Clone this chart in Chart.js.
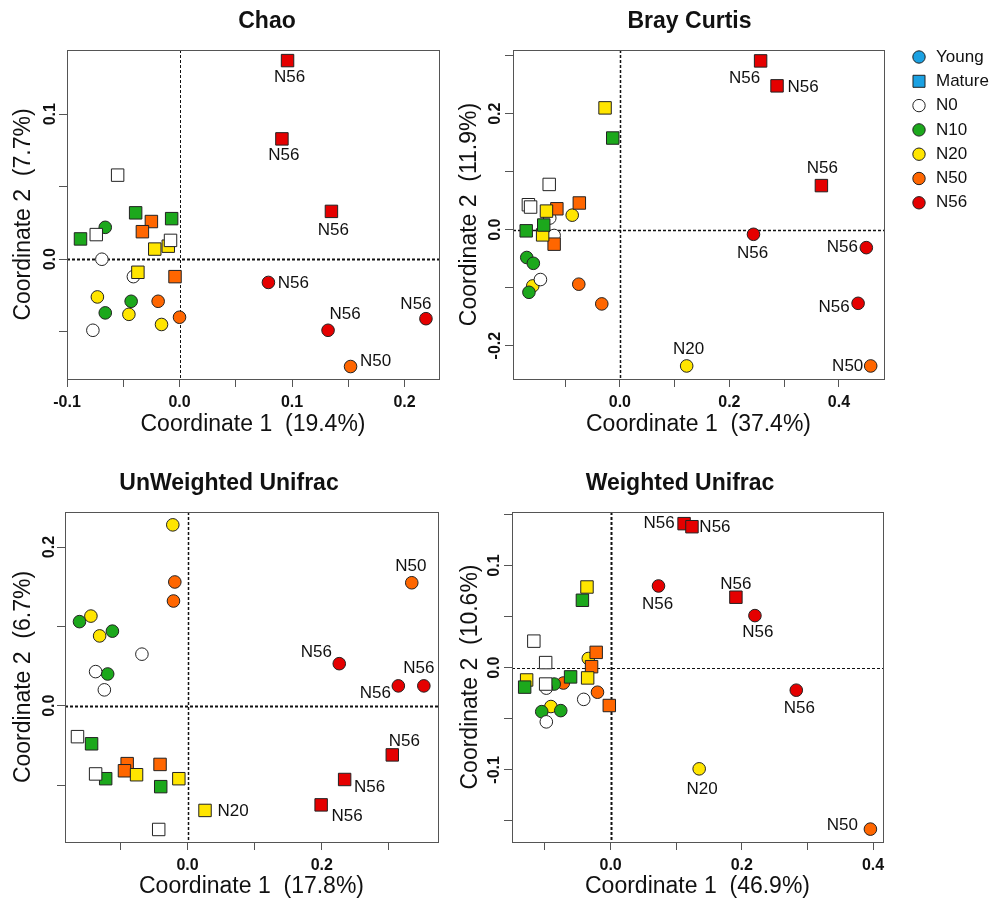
<!DOCTYPE html>
<html>
<head>
<meta charset="utf-8">
<script src="https://cdn.jsdelivr.net/npm/chart.js@4/dist/chart.umd.min.js"></script>
<style>
  body { margin: 0; background: #fff; }
  #wrap { position: relative; width: 994px; height: 900px; overflow: hidden; }
  #wrap canvas { position: absolute; }
</style>
</head>
<body>
<div id="wrap">
  <canvas id="chao" width="460" height="450" style="left:0;top:0"></canvas>
  <canvas id="bray" width="554" height="450" style="left:440px;top:0"></canvas>
  <canvas id="unw" width="460" height="440" style="left:0;top:460px"></canvas>
  <canvas id="wu" width="554" height="440" style="left:440px;top:460px"></canvas>
</div>
<script>
const FONT = "'Liberation Sans', Arial, Helvetica, sans-serif";

// 30 samples, same order in every panel: 3 young then 3 mature per N level
const sampleGroup = ['N0','N0','N0','N0','N0','N0','N10','N10','N10','N10','N10','N10',
  'N20','N20','N20','N20','N20','N20','N50','N50','N50','N50','N50','N50',
  'N56','N56','N56','N56','N56','N56'];
const sampleAge = ['Young','Young','Young','Mature','Mature','Mature','Young','Young','Young','Mature','Mature','Mature',
  'Young','Young','Young','Mature','Mature','Mature','Young','Young','Young','Mature','Mature','Mature',
  'Young','Young','Young','Mature','Mature','Mature'];

const groupNames = ['N0', 'N10', 'N20', 'N50', 'N56'];
const groupColors = { N0: '#ffffff', N10: '#1ca81c', N20: '#ffe500', N50: '#ff6600', N56: '#e50000' };

const legendLabels = ['Young', 'Mature', 'N0', 'N10', 'N20', 'N50', 'N56'];
const legendColors = ['#1ba1e2', '#1ba1e2', '#ffffff', '#1ca81c', '#ffe500', '#ff6600', '#e50000'];
const legendShapes = ['circle', 'rect', 'circle', 'circle', 'circle', 'circle', 'circle'];

// Chao
const chaoX = [-0.069, -0.041, -0.077, -0.055, -0.074, -0.008,
  -0.066, -0.043, -0.066, -0.088, -0.039, -0.007,
  -0.073, -0.045, -0.016, -0.022, -0.010, -0.037,
  0.152, -0.019, 0.000, -0.025, -0.033, -0.004,
  0.079, 0.132, 0.219, 0.096, 0.091, 0.135];
const chaoY = [0.000, -0.012, -0.049, 0.058, 0.017, 0.013,
  0.022, -0.029, -0.037, 0.014, 0.032, 0.028,
  -0.026, -0.038, -0.045, 0.007, 0.009, -0.009,
  -0.074, -0.029, -0.040, 0.026, 0.019, -0.012,
  -0.016, -0.049, -0.041, 0.137, 0.083, 0.033];
const chaoXTicks = [-0.1, -0.05, 0, 0.05, 0.1, 0.15, 0.2];
const chaoXTickLabels = ['-0.1', '', '0.0', '', '0.1', '', '0.2'];
const chaoYTicks = [-0.05, 0, 0.05, 0.1];
const chaoYTickLabels = ['', '0.0', '', '0.1'];

// Bray Curtis
const brayX = [-0.128, -0.120, -0.145, -0.129, -0.167, -0.163,
  -0.170, -0.158, -0.166, -0.013, -0.171, -0.139,
  0.122, -0.087, -0.159, -0.027, -0.134, -0.141,
  0.458, -0.075, -0.033, -0.074, -0.115, -0.120,
  0.244, 0.450, 0.435, 0.257, 0.287, 0.368];
const brayY = [0.020, -0.010, -0.086, 0.078, 0.043, 0.039,
  -0.048, -0.058, -0.108, 0.158, -0.002, 0.008,
  -0.235, 0.025, -0.097, 0.210, 0.032, -0.009,
  -0.235, -0.094, -0.128, 0.046, 0.036, -0.025,
  -0.008, -0.031, -0.127, 0.291, 0.248, 0.076];
const brayXTicks = [-0.1, 0, 0.1, 0.2, 0.3, 0.4];
const brayXTickLabels = ['', '0.0', '', '0.2', '', '0.4'];
const brayYTicks = [-0.2, -0.1, 0, 0.1, 0.2, 0.3];
const brayYTickLabels = ['-0.2', '', '0.0', '', '0.2', ''];

// UnWeighted Unifrac
const unwX = [-0.068, -0.137, -0.124, -0.164, -0.137, -0.043,
  -0.161, -0.112, -0.119, -0.143, -0.122, -0.040,
  -0.022, -0.144, -0.131, 0.026, -0.076, -0.013,
  0.334, -0.019, -0.021, -0.090, -0.094, -0.041,
  0.226, 0.314, 0.352, 0.305, 0.234, 0.199];
const unwY = [0.065, 0.043, 0.020, -0.039, -0.086, -0.156,
  0.106, 0.094, 0.040, -0.048, -0.092, -0.102,
  0.228, 0.113, 0.088, -0.132, -0.087, -0.092,
  0.155, 0.156, 0.132, -0.073, -0.082, -0.074,
  0.053, 0.025, 0.025, -0.062, -0.093, -0.125];
const unwXTicks = [-0.1, 0, 0.1, 0.2, 0.3];
const unwXTickLabels = ['', '0.0', '', '0.2', ''];
const unwYTicks = [-0.1, 0, 0.1, 0.2];
const unwYTickLabels = ['', '0.0', '', '0.2'];

// Weighted Unifrac
const wuX = [-0.098, -0.041, -0.098, -0.117, -0.099, -0.099,
  -0.086, -0.105, -0.076, -0.043, -0.061, -0.131,
  0.135, -0.034, -0.091, -0.036, -0.035, -0.128,
  0.396, -0.072, -0.020, -0.022, -0.029, -0.002,
  0.073, 0.220, 0.283, 0.112, 0.124, 0.191];
const wuY = [-0.020, -0.031, -0.053, 0.026, 0.005, -0.016,
  -0.016, -0.043, -0.042, 0.066, -0.009, -0.019,
  -0.099, 0.009, -0.038, 0.079, -0.010, -0.012,
  -0.158, -0.015, -0.024, 0.015, 0.001, -0.037,
  0.080, 0.051, -0.022, 0.141, 0.138, 0.069];
const wuXTicks = [-0.1, 0, 0.1, 0.2, 0.3, 0.4];
const wuXTickLabels = ['', '0.0', '', '0.2', '', '0.4'];
const wuYTicks = [-0.15, -0.1, -0.05, 0, 0.05, 0.1, 0.15];
const wuYTickLabels = ['', '-0.1', '', '0.0', '', '0.1', ''];

const panels = [
  { id: 'chao', title: 'Chao', x: chaoX, y: chaoY,
    xTicks: chaoXTicks, xTickLabels: chaoXTickLabels, yTicks: chaoYTicks, yTickLabels: chaoYTickLabels,
    xMin: -0.1, xMax: 0.2306, yMin: -0.0826, yMax: 0.1443,
    xTitle: 'Coordinate 1  (19.4%)', yTitle: 'Coordinate 2  (7.7%)',
    // label offsets (px) from the point, keyed by sample index
    labels: { 18: [25, -5], 24: [25, 1], 25: [17, -16], 26: [-10, -14], 27: [2, 17], 28: [2, 16], 29: [2, 19] },
    pad: { left: 0, top: 50, right: 21, bottom: 11 }, yAxisWidth: 67, xAxisHeight: 60,
    tickPad: 8, xTitlePad: 2.5, yTitlePad: 12, yLabelOff: 16, titleX: 267, titleY: 22,
    zeroH: 2, zeroV: 1, legend: false },
  { id: 'bray', title: 'Bray Curtis', x: brayX, y: brayY,
    xTicks: brayXTicks, xTickLabels: brayXTickLabels, yTicks: brayYTicks, yTickLabels: brayYTickLabels,
    xMin: -0.1951, xMax: 0.4823, yMin: -0.2575, yMax: 0.3098,
    xTitle: 'Coordinate 1  (37.4%)', yTitle: 'Coordinate 2  (11.9%)',
    labels: { 12: [2, -17], 18: [-23, 0], 24: [-1, 19], 25: [-24, 0], 26: [-24, 4], 27: [-16, 17], 28: [26, 1], 29: [1, -17] },
    pad: { left: 0, top: 50, right: 110, bottom: 11 }, yAxisWidth: 73, xAxisHeight: 60,
    tickPad: 8, xTitlePad: 2.5, yTitlePad: 18.5, yLabelOff: 17, titleX: 249.5, titleY: 22,
    zeroH: 1.5, zeroV: 1.5, legend: true },
  { id: 'unw', title: 'UnWeighted Unifrac', x: unwX, y: unwY,
    xTicks: unwXTicks, xTickLabels: unwXTickLabels, yTicks: unwYTicks, yTickLabels: unwYTickLabels,
    xMin: -0.1826, xMax: 0.3731, yMin: -0.1718, yMax: 0.2442,
    xTitle: 'Coordinate 1  (17.8%)', yTitle: 'Coordinate 2  (6.7%)',
    labels: { 15: [28, 1], 18: [-1, -16], 24: [-23, -11], 25: [-23, 7], 26: [-5, -18], 27: [12, -14], 28: [25, 8], 29: [26, 11] },
    pad: { left: 0, top: 52, right: 22, bottom: 0 }, yAxisWidth: 65, xAxisHeight: 58,
    tickPad: 7.5, xTitlePad: 1.5, yTitlePad: 12.5, yLabelOff: 15, titleX: 229, titleY: 24,
    zeroH: 2, zeroV: 1.5, legend: false },
  { id: 'wu', title: 'Weighted Unifrac', x: wuX, y: wuY,
    xTicks: wuXTicks, xTickLabels: wuXTickLabels, yTicks: wuYTicks, yTickLabels: wuYTickLabels,
    xMin: -0.1503, xMax: 0.4152, yMin: -0.1706, yMax: 0.1524,
    xTitle: 'Coordinate 1  (46.9%)', yTitle: 'Coordinate 2  (10.6%)',
    labels: { 12: [3, 20], 18: [-28, -4], 24: [-1, 18], 25: [3, 17], 26: [3, 18], 27: [-25, 0], 28: [23, 1], 29: [0, -13] },
    pad: { left: 0, top: 52, right: 111, bottom: 0 }, yAxisWidth: 72, xAxisHeight: 58,
    tickPad: 7.5, xTitlePad: 1.5, yTitlePad: 19, yLabelOff: 17, titleX: 240, titleY: 24,
    zeroH: 1, zeroV: 2, legend: false }
];

const pcoaDecor = {
  id: 'pcoaDecor',
  beforeDatasetsDraw(chart, args, o) {
    const { ctx, chartArea: a, scales: { x, y } } = chart;
    ctx.save();
    ctx.strokeStyle = '#111';
    ctx.setLineDash([3, 2]);
    const x0 = Math.round(x.getPixelForValue(0)) + 0.5;
    ctx.lineWidth = o.zeroV;
    ctx.beginPath(); ctx.moveTo(x0, a.top); ctx.lineTo(x0, a.bottom); ctx.stroke();
    const y0 = Math.round(y.getPixelForValue(0)) + 0.5;
    ctx.lineWidth = o.zeroH;
    ctx.beginPath(); ctx.moveTo(a.left, y0); ctx.lineTo(a.right, y0); ctx.stroke();
    ctx.restore();
  },
  afterDraw(chart, args, o) {
    const { ctx, chartArea: a, scales: { y } } = chart;
    ctx.save();
    // frame
    ctx.strokeStyle = '#555';
    ctx.lineWidth = 1;
    ctx.strokeRect(Math.round(a.left) + 0.5, Math.round(a.top) + 0.5,
      Math.round(a.right) - Math.round(a.left), Math.round(a.bottom) - Math.round(a.top));

    // rotated y tick labels
    ctx.fillStyle = '#111';
    ctx.font = 'bold 16px ' + FONT;
    ctx.textAlign = 'center';
    ctx.textBaseline = 'middle';
    y.ticks.forEach(t => {
      if (!t.label) return;
      ctx.save();
      ctx.translate(a.left - o.yLabelOff, y.getPixelForValue(t.value));
      ctx.rotate(-Math.PI / 2);
      ctx.fillText(t.label, 0, 0);
      ctx.restore();
    });

    // sample labels for outliers
    ctx.font = '17px ' + FONT;
    chart.data.datasets.forEach((ds, di) => {
      const meta = chart.getDatasetMeta(di);
      ds.data.forEach((d, j) => {
        const off = o.labels[d.i];
        if (!off) return;
        const el = meta.data[j];
        ctx.fillText(sampleGroup[d.i], el.x + off[0], el.y + off[1]);
      });
    });

    // panel title
    ctx.font = 'bold 23px ' + FONT;
    ctx.fillText(o.title, o.titleX, o.titleY);

    // legend
    if (o.legend) {
      ctx.font = '17px ' + FONT;
      ctx.textAlign = 'left';
      legendLabels.forEach((lab, i) => {
        const ly = 57 + i * 24.3;
        ctx.fillStyle = legendColors[i];
        ctx.strokeStyle = '#222';
        ctx.lineWidth = 1;
        Chart.helpers.drawPoint(ctx, {
          pointStyle: legendShapes[i], rotation: 0,
          radius: legendShapes[i] === 'rect' ? 8.5 : 6.2, borderWidth: 1
        }, 479, ly);
        ctx.fillStyle = '#111';
        ctx.fillText(lab, 496, ly);
      });
    }
    ctx.restore();
  }
};

function buildDatasets(p) {
  const out = [];
  ['Mature', 'Young'].forEach(age => {
    groupNames.forEach(g => {
      const data = [];
      sampleGroup.forEach((sg, i) => {
        if (sg === g && sampleAge[i] === age) data.push({ x: p.x[i], y: p.y[i], i: i });
      });
      const square = age === 'Mature';
      out.push({
        label: g + ' ' + age,
        data: data,
        backgroundColor: groupColors[g],
        borderColor: '#222',
        borderWidth: 1,
        pointStyle: square ? 'rect' : 'circle',
        pointRadius: square ? 8.8 : 6.3,
        pointHoverRadius: square ? 8.8 : 6.3,
        clip: false
      });
    });
  });
  return out;
}

function axis(p, which) {
  const horiz = which === 'x';
  const ticks = horiz ? p.xTicks : p.yTicks;
  const labels = horiz ? p.xTickLabels : p.yTickLabels;
  return {
    type: 'linear',
    min: horiz ? p.xMin : p.yMin,
    max: horiz ? p.xMax : p.yMax,
    afterBuildTicks: s => { s.ticks = ticks.map(v => ({ value: v })); },
    afterFit: s => { if (horiz) s.height = p.xAxisHeight; else s.width = p.yAxisWidth; },
    ticks: {
      display: horiz,
      autoSkip: false,
      maxRotation: 0,
      minRotation: 0,
      padding: p.tickPad,
      color: '#111',
      font: { family: FONT, size: 16, weight: 'bold', lineHeight: 1 },
      callback: (v, i) => labels[i]
    },
    grid: { display: true, drawOnChartArea: false, drawTicks: true, tickLength: 8, color: '#555', tickColor: '#555' },
    border: { display: false },
    title: {
      display: true,
      text: horiz ? p.xTitle : p.yTitle,
      color: '#111',
      font: { family: FONT, size: 23, lineHeight: 1 },
      padding: horiz ? { top: 0, bottom: p.xTitlePad } : { top: p.yTitlePad, bottom: 0 }
    }
  };
}

panels.forEach(p => {
  new Chart(document.getElementById(p.id), {
    type: 'scatter',
    data: { datasets: buildDatasets(p) },
    options: {
      responsive: false,
      animation: false,
      events: [],
      layout: { padding: p.pad },
      scales: { x: axis(p, 'x'), y: axis(p, 'y') },
      plugins: {
        legend: { display: false },
        tooltip: { enabled: false },
        pcoaDecor: p
      }
    },
    plugins: [pcoaDecor]
  });
});
</script>
</body>
</html>
